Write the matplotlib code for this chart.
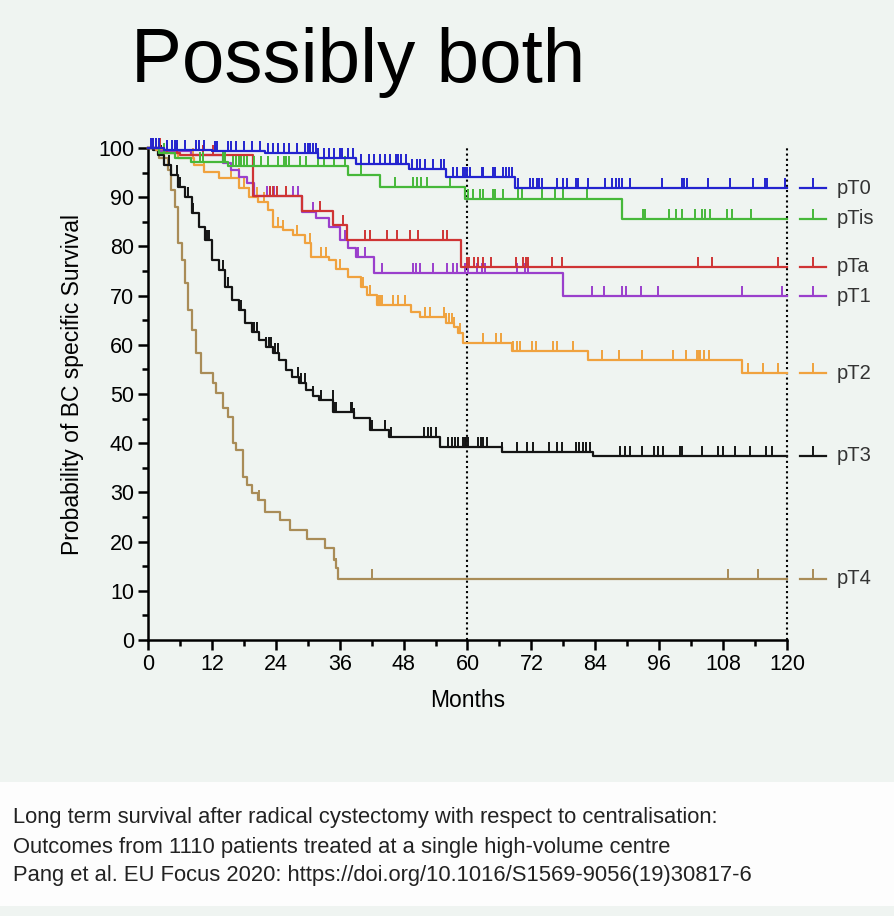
import matplotlib
matplotlib.use("Agg")
import matplotlib.pyplot as plt
import numpy as np
from matplotlib.patches import Rectangle
from matplotlib.ticker import MultipleLocator
from matplotlib.transforms import blended_transform_factory

plt.rcParams["font.family"] = ["Liberation Sans", "DejaVu Sans"]

# step data (months, % survival), censor times in months
pt0_times = [0, 3, 12, 22, 32, 39, 49, 56, 69]
pt0_surv = [100, 99.6, 99.3, 99, 98, 96.8, 95.8, 94.2, 91.8]
pt0_censor = [0.5, 1, 1.5, 2, 3.5, 4.5, 5, 5.5, 7, 9, 9.5, 10.5, 12.5, 13, 15, 15.5, 16.5, 18,
              19.5, 21, 22.5, 23.5, 24.5, 25.5, 26.5, 28, 29.5, 30, 30.5, 31, 31.5, 32, 33, 34,
              35, 36, 36.5, 37.5, 38.5, 40, 41.5, 42.5, 43.5, 44.5, 45.5, 46.5, 47, 47.5, 48.5,
              49.5, 50.5, 51, 52, 53.5, 55, 55.5, 57.3, 58, 59.2, 59.6, 60, 60.5, 62.7, 62.9,
              64.8, 65.2, 66.7, 67.2, 67.8, 68.4, 69.5, 71.7, 72.3, 73, 73.5, 74, 76.8, 77.9,
              78.7, 80.4, 80.8, 82.6, 85.8, 87.1, 87.9, 88.5, 89, 90.5, 96.5, 100.3, 100.7,
              101.2, 105.2, 109.3, 113.6, 115.9, 116.3, 119.6]

ptis_times = [0, 2, 5, 8, 15, 37.5, 43.5, 59.5, 89]
ptis_surv = [100, 99, 98, 97.2, 96.3, 94.5, 92.0, 89.6, 85.6]
ptis_censor = [2, 3, 9.8, 10.4, 14, 14.5, 16, 16.5, 17, 17.5, 18, 18.6, 20, 21.3, 22.6, 24.5,
               25.5, 26, 26.5, 28.5, 29.7, 32, 33, 35, 37, 40, 46.4, 49.8, 50.5, 51.2, 52.4,
               56.7, 60.1, 61, 62.3, 62.9, 64.8, 65.2, 66.7, 69.5, 70.2, 74, 76.4, 77.9, 82.4,
               93, 93.3, 97.8, 99.2, 100.3, 102.7, 104, 104.6, 105.5, 108.7, 109.7, 113.2]

pta_times = [0, 3, 6, 19.8, 28.9, 34.7, 37.4, 58.7]
pta_surv = [100, 99, 98.6, 90.2, 87.2, 84.3, 81.3, 75.9]
pta_censor = [1, 1.5, 2.3, 3.5, 5.4, 10.3, 12.2, 22.9, 23.5, 24.2, 26, 32.3, 34.7, 36.6, 40.8,
              41.7, 44.9, 46.8, 49.2, 50.7, 55.4, 56.2, 59.9, 60.3, 61.2, 62, 62.9, 64.4, 69.1,
              70.4, 71, 71.4, 75.9, 77.7, 103.3, 105.9, 118.3]

pt1_times = [0, 2, 8, 14, 15.5, 17, 18.5, 20, 29, 31.5, 34, 36, 37.5, 39, 42.4, 78]
pt1_surv = [100, 99.3, 98.6, 97, 95.5, 94.2, 92.8, 90.2, 87, 85.8, 84, 81.3, 79.7, 77.9, 74.6, 69.9]
pt1_censor = [1, 2, 5, 10.3, 14.5, 22.3, 23, 23.6, 27.3, 28.2, 31, 36, 37, 39.5, 40.7, 43.9,
              49.8, 50.4, 51, 53.5, 56.1, 57.3, 58, 59.5, 60.1, 61.8, 62.7, 63.3, 69.3, 70.8,
              71.4, 83.4, 85.6, 89, 89.8, 92.6, 95.8, 111.5, 119.1]

pt2_times = [0, 1.5, 3, 5.6, 8.7, 10.5, 13.4, 17.1, 18.9, 20.7, 22.5, 23.5, 25.4, 27.3, 29.4,
             30.7, 34, 35.3, 37.6, 40, 41.2, 43, 49.3, 51, 56, 57.5, 58.3, 59.2, 68.3, 82.6, 111.5]
pt2_surv = [100, 99.5, 99, 98, 96.5, 95.2, 93.9, 91.9, 90.1, 89.1, 87.4, 84, 83.3, 82.3, 80.7,
            77.9, 77.2, 75.5, 73.8, 71.8, 70.1, 68.1, 66.7, 65.7, 64.4, 63.7, 62.4, 60.3, 58.8,
            56.9, 54.2]
pt2_censor = [8.4, 10.6, 15.6, 17, 18, 19, 20.5, 21.8, 24.5, 25.4, 27.9, 30.4, 30.7, 32.5, 33.5,
              36, 40.4, 41.6, 43.2, 43.6, 43.9, 46, 47, 48.3, 52, 53, 55.5, 56, 56.5, 57, 57.5,
              58.6, 62.9, 65.4, 66.3, 68.5, 69.3, 69.9, 72.1, 72.9, 76.1, 76.8, 79.8, 85.3, 88.5,
              92.8, 98.6, 101, 103.1, 103.4, 103.7, 104.4, 105.4, 112.7, 115.5, 118.3]

pt3_times = [0, 1, 1.9, 3, 4.4, 5.7, 6.9, 8.2, 9.5, 10.7, 12, 13.3, 14.5, 15.8, 17.1, 18.3, 19.6,
             20.9, 22.1, 23.4, 24.6, 25.9, 27.1, 28.4, 29.6, 31, 32.1, 34.8, 38.6, 41.7, 45.2,
             54.8, 66.4, 83.6]
pt3_surv = [100, 99.5, 98.6, 96.5, 94.5, 92.1, 90, 86.8, 84, 81.3, 77.2, 75.2, 71.8, 69.1, 67.1,
            64.4, 62.7, 61, 59.6, 58.3, 56.9, 54.9, 53.5, 52.2, 50.8, 49.5, 48.8, 46.4, 45.1,
            42.7, 41.3, 39.3, 38.3, 37.4]
pt3_censor = [1, 1.5, 2, 2.5, 3, 4, 5.5, 6, 7.5, 8.5, 11, 11.5, 14, 14.5, 15, 17.5, 19.6, 20,
              20.5, 22.2, 22.7, 23.1, 23.8, 24.4, 26, 28.2, 28.8, 29.4, 31, 32.5, 34.7, 35, 35.3,
              38.1, 38.4, 38.7, 42, 44.5, 45.7, 51.8, 52.5, 53.2, 54, 54.9, 56.4, 57, 57.6, 58.2,
              59.2, 59.5, 59.8, 60.1, 62, 62.5, 63, 63.7, 66.5, 69.3, 71.2, 72.3, 75.3, 76.8,
              77.7, 80.4, 81, 81.6, 82.3, 83, 88.6, 89.6, 90.5, 92.8, 95, 95.8, 96.7, 99.9,
              100.3, 104, 107, 108, 110.2, 113, 116, 117.2]

pt4_times = [0, 2, 3.8, 4.4, 5, 5.6, 6.3, 6.9, 7.5, 8.2, 9.1, 10, 12.2, 12.8, 14, 15, 15.9, 16.6,
             17.9, 18.5, 19.5, 20.7, 22, 24.8, 26.7, 29.9, 33.3, 35, 35.3, 35.6]
pt4_surv = [100, 98, 95.5, 91.5, 88.1, 80.7, 77.2, 72.5, 67.1, 63, 58.3, 54.2, 52.2, 50.2, 47.1,
            45.4, 40, 38.6, 33.2, 31.5, 29.8, 28.5, 26.1, 24.4, 22.4, 20.5, 18.6, 16.3, 14.6, 12.4]
pt4_censor = [12.2, 15, 20.9, 35.3, 42, 109, 114.6]

groups = ["pT0", "pTis", "pTa", "pT1", "pT2", "pT3", "pT4"]
colors = ["#2323cf", "#46b83a", "#cf3434", "#9a3fcc", "#f0a23e", "#141414", "#a98c57"]
curves = [
    (pt0_times, pt0_surv, pt0_censor),
    (ptis_times, ptis_surv, ptis_censor),
    (pta_times, pta_surv, pta_censor),
    (pt1_times, pt1_surv, pt1_censor),
    (pt2_times, pt2_surv, pt2_censor),
    (pt3_times, pt3_surv, pt3_censor),
    (pt4_times, pt4_surv, pt4_censor),
]

caption = [
    "Long term survival after radical cystectomy with respect to centralisation:",
    "Outcomes from 1110 patients treated at a single high-volume centre",
    "Pang et al. EU Focus 2020: https://doi.org/10.1016/S1569-9056(19)30817-6",
]

BG = "#eff4f1"
W, H = 895, 916
fig = plt.figure(figsize=(W / 100, H / 100), dpi=100, facecolor=BG)

fig.text(131 / W, 1 - 82 / H, "Possibly both", fontsize=55, va="baseline", ha="left",
         color="black")

fig.patches.append(Rectangle((0, 1 - 906 / H), 1, 124 / H, transform=fig.transFigure,
                             facecolor="#fdfdfd", edgecolor="none", zorder=0))
for i, line in enumerate(caption):
    fig.text(13 / W, 1 - (818 + 29 * i) / H, line, fontsize=15.8, va="center", ha="left",
             color="#222222")

ax = fig.add_axes([148 / W, 1 - 640 / H, 639 / W, 492 / H])
ax.set_facecolor(BG)
ax.set_xlim(0, 120)
ax.set_ylim(0, 100)
for s in ["top", "right"]:
    ax.spines[s].set_visible(False)
for s in ["left", "bottom"]:
    ax.spines[s].set_linewidth(1.8)

ax.xaxis.set_major_locator(MultipleLocator(12))
ax.xaxis.set_minor_locator(MultipleLocator(6))
ax.yaxis.set_major_locator(MultipleLocator(10))
ax.yaxis.set_minor_locator(MultipleLocator(5))
ax.tick_params(which="major", direction="out", length=7, width=1.8, labelsize=15.5, pad=3)
ax.tick_params(which="minor", direction="out", length=4.5, width=1.8)

ax.set_xlabel("Months", fontsize=16.5)
ax.set_ylabel("Probability of BC specific Survival", fontsize=16.5)
ax.xaxis.set_label_coords(0.5, -0.1)
ax.yaxis.set_label_coords(-0.1, 0.52)

for xv in (60, 120):
    ax.axvline(xv, color="black", linestyle=(0, (1, 1.5)), linewidth=1.5, clip_on=False, zorder=1)

for (times, surv, censor), color in list(zip(curves, colors))[::-1]:
    t = np.append(times, 120)
    s = np.append(surv, surv[-1])
    ax.step(t, s, where="post", color=color, linewidth=1.6, clip_on=False, zorder=3)
    c = np.asarray(censor)
    idx = np.searchsorted(times, c, side="right") - 1
    cy = np.asarray(surv)[idx]
    ax.plot(c, cy, linestyle="none", marker=2, markersize=7, markeredgewidth=1.4,
            color=color, clip_on=False, zorder=3)

trans = blended_transform_factory(ax.transAxes, ax.transData)
for name, (times, surv, censor), color in zip(groups, curves, colors):
    y = surv[-1]
    ax.plot([1.020, 1.061], [y, y], color=color, linewidth=1.6, transform=trans, clip_on=False)
    ax.plot([1.0405], [y], marker=2, markersize=7, markeredgewidth=1.4, color=color,
            transform=trans, clip_on=False)
    ax.text(1.077, y, name, transform=trans, fontsize=14.5, va="center", ha="left",
            color="#333333")

fig.savefig("out.png", dpi=100, facecolor=BG)
